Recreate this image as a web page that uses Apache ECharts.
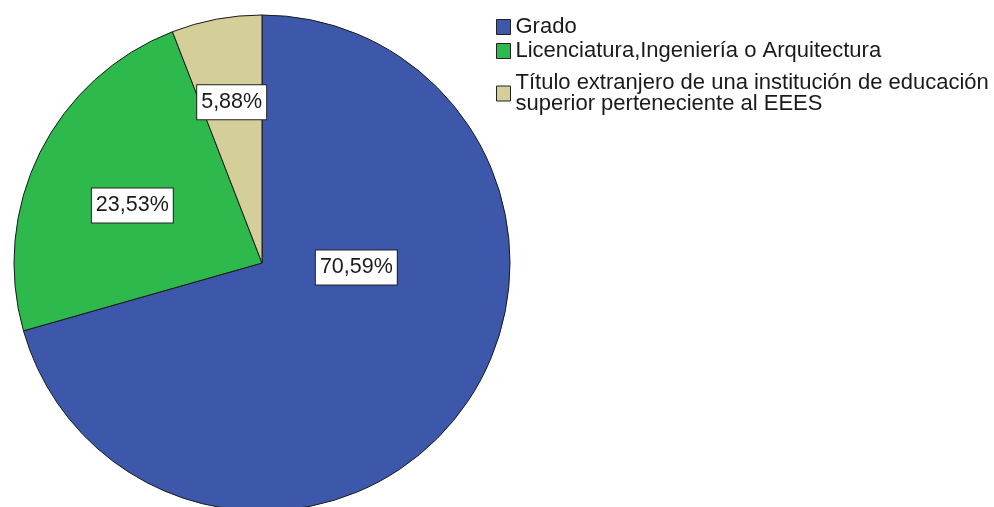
<!DOCTYPE html>
<html>
<head>
<meta charset="utf-8">
<script src="https://cdn.jsdelivr.net/npm/echarts@6/dist/echarts.min.js"></script>
<style>
  html, body { margin: 0; padding: 0; background: #fff; }
  #main { width: 994px; height: 507px; }
</style>
</head>
<body>
<div id="main"></div>
<script>
// categorías y porcentajes
const categories = [
  'Grado',
  'Licenciatura,Ingeniería o Arquitectura',
  'Título extranjero de una institución de educación superior perteneciente al EEES'
]
const values = [70.59, 23.53, 5.88]
const colors = ['#3d58ab', '#2db94b', '#d4cf98']
// desplazamiento de cada etiqueta respecto a su posición "inside"
const labelOffsets = [[-7, -72], [-16, -1], [-7, -36]]

const font = 'Arial, "Liberation Sans", sans-serif'

const chart = echarts.init(document.getElementById('main'), null, { renderer: 'canvas' })

const legendText = {
  fontFamily: font,
  fontSize: 22,
  color: '#1a1a1a',
  lineHeight: 21
}

const option = {
  animation: false,
  backgroundColor: '#fff',
  legend: [
    {
      orient: 'vertical',
      left: 496,
      top: 16,
      padding: 0,
      itemWidth: 14,
      itemHeight: 15,
      itemGap: 2,
      icon: 'rect',
      selectedMode: false,
      data: categories.slice(0, 2),
      textStyle: legendText,
      itemStyle: { borderColor: '#222', borderWidth: 1 }
    },
    {
      orient: 'vertical',
      left: 496,
      top: 72,
      padding: 0,
      itemWidth: 14,
      itemHeight: 15,
      icon: 'rect',
      selectedMode: false,
      data: categories.slice(2),
      formatter: function (name) {
        return name.replace(' superior', '\nsuperior')
      },
      textStyle: legendText,
      itemStyle: { borderColor: '#222', borderWidth: 1 }
    }
  ],
  series: [
    {
      type: 'pie',
      center: [262, 263],
      radius: 248,
      startAngle: 90,
      clockwise: true,
      avoidLabelOverlap: false,
      itemStyle: { borderColor: '#1a1a1a', borderWidth: 1 },
      emphasis: { disabled: true },
      label: {
        show: true,
        position: 'inside',
        formatter: function (p) {
          return p.value.toFixed(2).replace('.', ',') + '%'
        },
        fontFamily: font,
        fontSize: 21.5,
        color: '#1a1a1a',
        backgroundColor: '#fff',
        borderColor: '#222',
        borderWidth: 1,
        padding: [7, 4, 5, 4]
      },
      labelLine: { show: false },
      data: categories.map((name, i) => ({
        name: name,
        value: values[i],
        itemStyle: { color: colors[i] },
        label: { offset: labelOffsets[i] }
      }))
    }
  ]
}

chart.setOption(option)
window.onresize = () => {
  chart.resize()
}
</script>
</body>
</html>
